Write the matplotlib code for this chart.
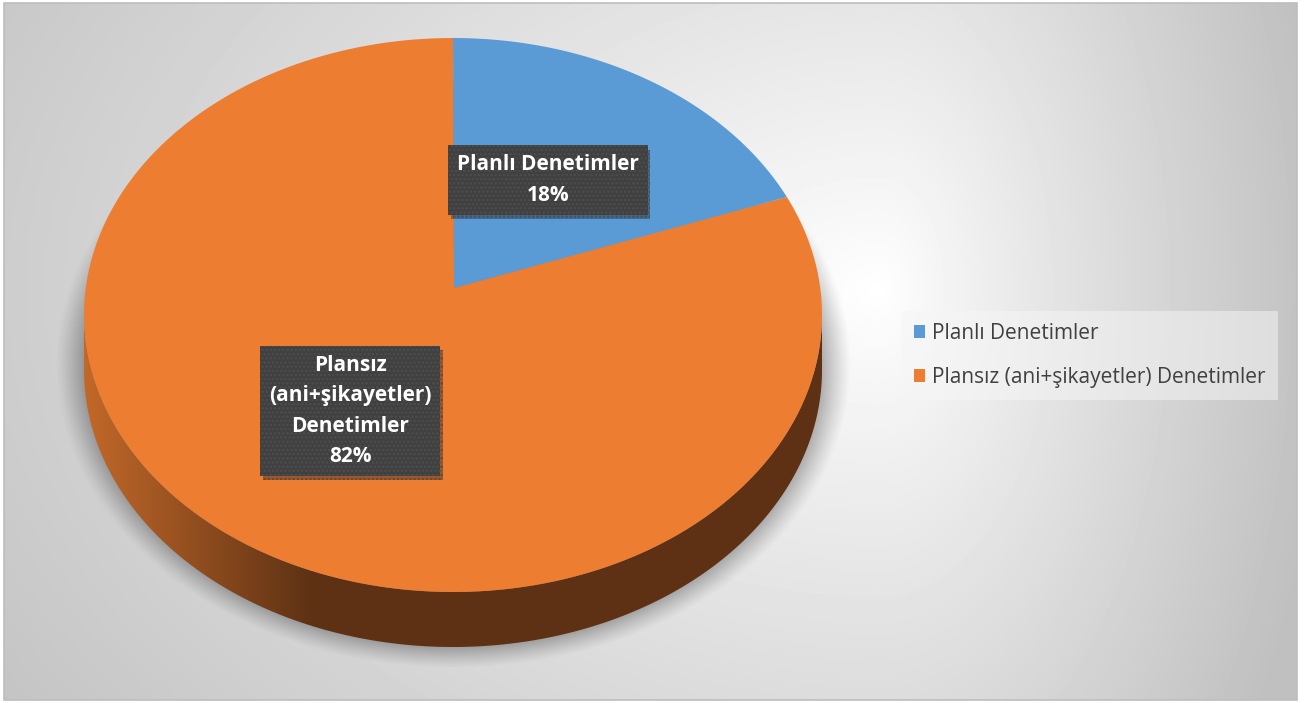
import numpy as np
import matplotlib.pyplot as plt
from matplotlib.patches import Polygon, Rectangle, Patch
import matplotlib.patheffects as pe

# data
categories = ["Planlı Denetimler", "Plansız (ani+şikayetler) Denetimler"]
box_labels = ["Planlı Denetimler", "Plansız\n(ani+şikayetler)\nDenetimler"]
shares = [18, 82]
colors = ["#5B9BD5", "#ED7D31"]

W, H = 1307, 703
fig = plt.figure(figsize=(W / 100, H / 100), dpi=100)
ax = fig.add_axes([0, 0, 1, 1])

# background panel: light spot right of the pie, greyer towards the edges
yy, xx = np.mgrid[3:700, 4:1297].astype(float)
lx = np.where(xx > 880, 450.0, 1150.0)
d = np.sqrt(((xx - 880) / lx) ** 2 + ((yy - 290) / 800) ** 2)
v = 1 - 0.25 * np.clip(d, 0, 1) ** 0.9
ax.imshow(v, cmap="gray", vmin=0, vmax=1, extent=(4, 1297, 700, 3),
          aspect="auto", zorder=0)
ax.add_patch(Rectangle((4, 3), 1293, 697, fill=False, ec="#bdbdbd", lw=1.2, zorder=0.5))

# pie geometry (pixel space)
cx, cy, rx, ry, depth = 453, 315, 369, 277, 55
apex = (454, 288)

# soft drop shadow under the pie, cut by the floor line
sy, sx = np.mgrid[0:H, 0:W].astype(float)
r = np.sqrt(((sx - cx) / 398) ** 2 + ((sy - 364) / 304) ** 2)
shadow = np.zeros((H, W, 4))
shadow[..., 3] = 0.42 * np.clip((1 - r) / 0.1, 0, 1) ** 1.2 * (sy < 667)
ax.imshow(shadow, extent=(0, W, H, 0), aspect="auto", zorder=1)

# front side of the cylinder with a left-to-right shading
t = np.radians(np.linspace(180, 360, 200))
top_x, top_y = cx + rx * np.cos(t), cy - ry * np.sin(t)
side_pts = np.vstack([np.column_stack([top_x, top_y]),
                      np.column_stack([top_x[::-1], top_y[::-1] + depth])])
side = Polygon(side_pts, closed=True, fc="none", ec="none", zorder=2)
ax.add_patch(side)
gx = np.linspace(cx - rx, cx + rx, 400)
f = np.clip((gx - (cx - rx)) / (310 - (cx - rx)), 0, 1)[None, :, None]
c0 = np.array([0.76, 0.41, 0.16])
c1 = np.array([0.37, 0.196, 0.08])
grad = c0 * (1 - f) + c1 * f
im = ax.imshow(grad, extent=(cx - rx, cx + rx, cy + ry + depth, cy), aspect="auto", zorder=2)
im.set_clip_path(side)

# top face slices, clockwise from 12 o'clock
start = 90.0
for share, col in zip(shares, colors):
    end = start - share / sum(shares) * 360
    a = np.radians(np.linspace(start, end, 200))
    pts = np.column_stack([cx + rx * np.cos(a), cy - ry * np.sin(a)])
    pts = np.vstack([[apex], pts])
    ax.add_patch(Polygon(pts, closed=True, fc=col, ec="none", zorder=3))
    start = end

# data labels
plt.rcParams["hatch.linewidth"] = 1.2
label_pos = [(548, 180), (350, 411)]
for (px, py), lab, share in zip(label_pos, box_labels, shares):
    txt = ax.text(px, py, f"{lab}\n{share}%", ha="center", va="center",
                  color="white", fontsize=15, fontweight="bold", family="Open Sans",
                  linespacing=1.6, zorder=6,
                  bbox=dict(boxstyle="square,pad=0.42", fc="#404040",
                            ec="#4d4d4d", lw=0, hatch="...."))
    txt.get_bbox_patch().set_path_effects(
        [pe.SimplePatchShadow(offset=(2, -3), alpha=0.35), pe.Normal()])

# legend
handles = [Patch(fc=c, ec="none") for c in colors]
leg = ax.legend(handles, categories, loc="center left",
                bbox_to_anchor=(901 / W, 1 - 355.5 / H), bbox_transform=fig.transFigure,
                frameon=True, fancybox=False, framealpha=0.5, facecolor="#f6f6f6",
                edgecolor="none", prop={"family": "Open Sans", "size": 15},
                labelspacing=1.1, handlelength=0.55, handleheight=0.55,
                handletextpad=0.35, borderpad=0.6, borderaxespad=0, labelcolor="#404040")
leg.set_zorder(7)

ax.set_xlim(0, W)
ax.set_ylim(H, 0)
ax.axis("off")

fig.savefig("out.png", dpi=100)
